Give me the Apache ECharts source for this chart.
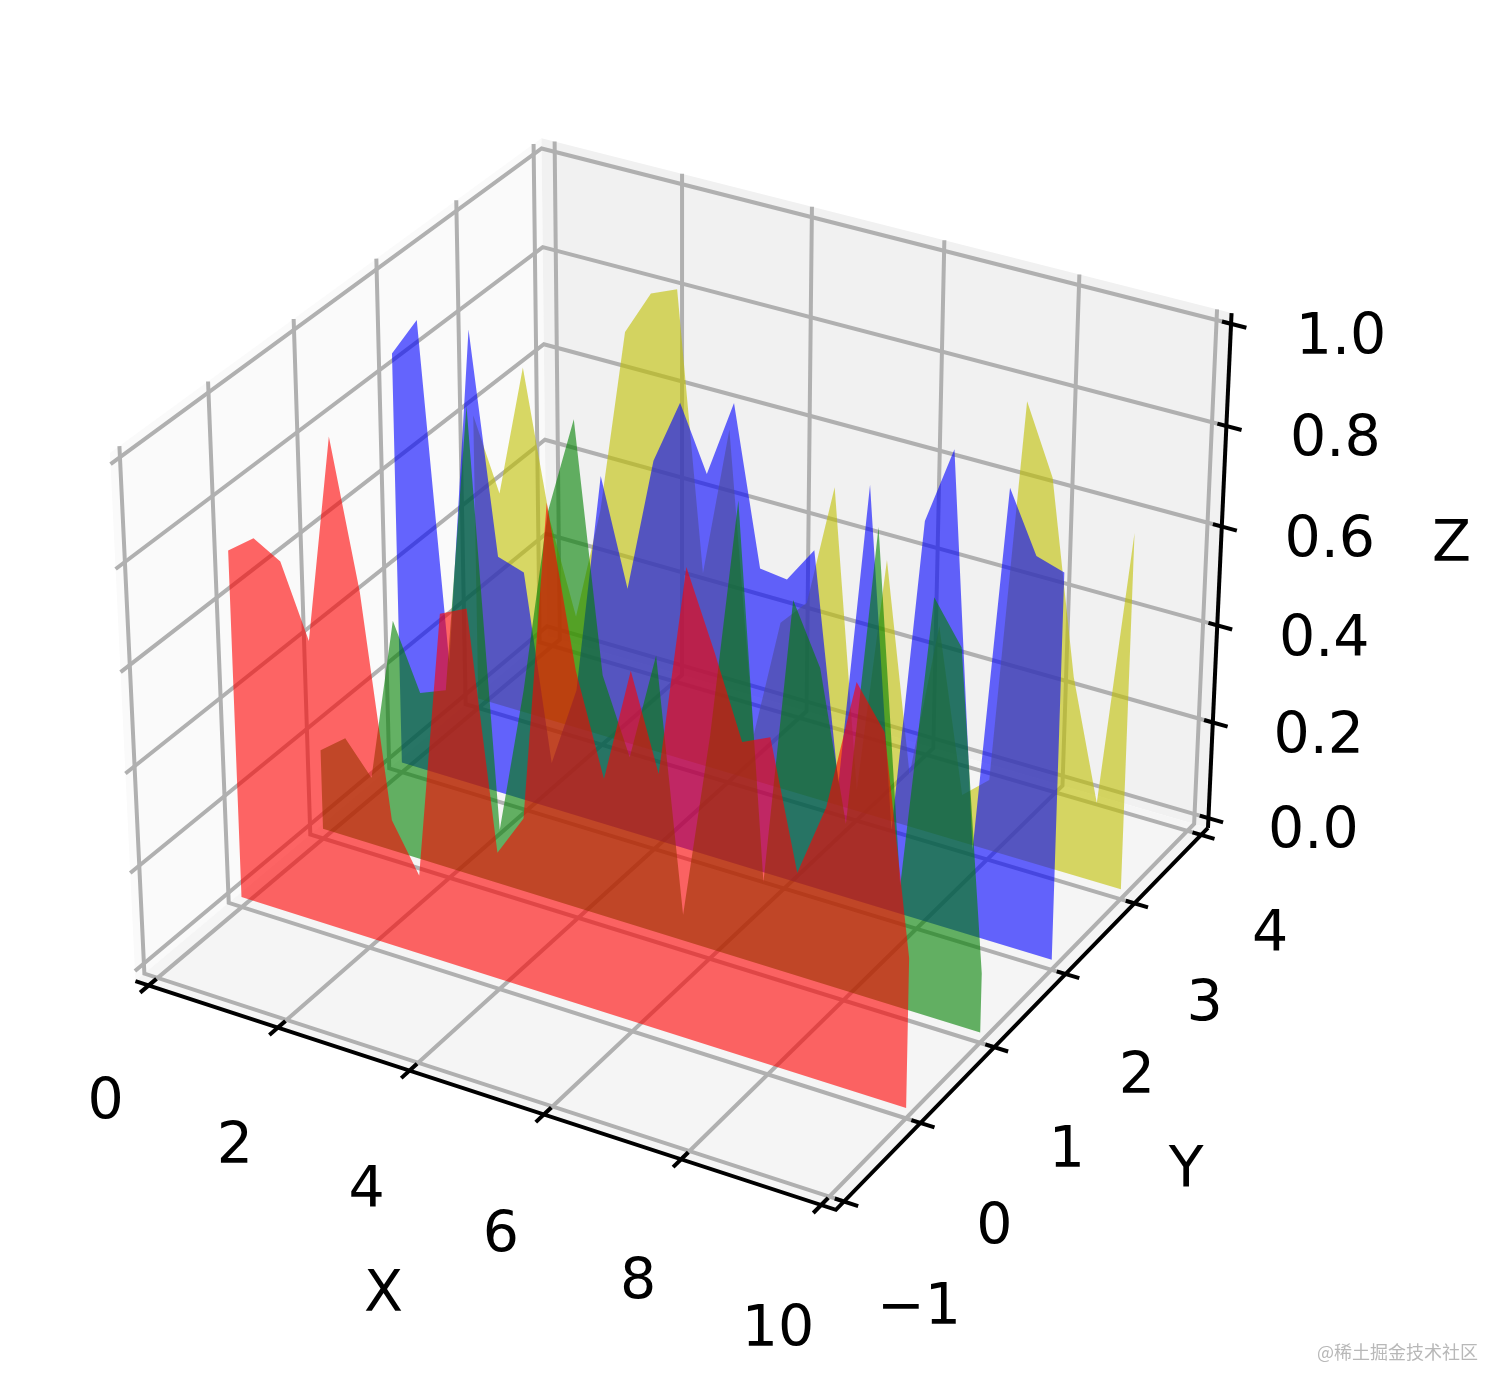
<!DOCTYPE html>
<html>
<head>
<meta charset="utf-8">
<style>
  html, body { margin: 0; padding: 0; background: #fff; }
  #main { width: 1512px; height: 1398px; }
</style>
<script src="https://cdn.jsdelivr.net/npm/echarts@6/dist/echarts.min.js"></script>
</head>
<body>
<div id="main"></div>
<script>
// 26 samples along x
var xs = [0, 0.4, 0.8, 1.2, 1.6, 2, 2.4, 2.8, 3.2, 3.6, 4, 4.4, 4.8, 5.2, 5.6, 6, 6.4, 6.8, 7.2, 7.6, 8, 8.4, 8.8, 9.2, 9.6, 10];
var redZ = [.701, .74, .709, .568, .98, .695, .257, .161, .698, .723, .257, .342, .97, .664, .469, .695, .511, .923, .778, .621, .646, .399, .543, .798, .719, .299];
var greenZ = [.164, .205, .139, .476, .345, .366, .944, .112, .413, .782, .975, .49, .341, .56, .053, .432, .906, .17, .745, .628, .337, .929, .246, .826, .745, .12];
var blueZ = [.841, .921, .242, .93, .49, .473, .095, .262, .711, .5, .77, .898, .773, .926, .616, .609, .682, .228, .839, .166, .798, .951, .175, .906, .79, .773];
var yellowZ = [.594, .448, .72, .422, .236, .472, .847, .937, .959, .402, .708, .096, .345, .401, .65, .044, .533, .109, .43, .098, .145, .92, .785, .403, .162, .721];

var xTicks = [0, 2, 4, 6, 8, 10];
var yTicks = [-1, 0, 1, 2, 3, 4];
var zTicks = [0, 0.2, 0.4, 0.6, 0.8, 1];
var xLabels = ['0', '2', '4', '6', '8', '10'];
var yLabels = ['\u22121', '0', '1', '2', '3', '4'];
var zLabels = ['0.0', '0.2', '0.4', '0.6', '0.8', '1.0'];

var W = 1512, H = 1398;
var scale = 6740, cx = 681.6, cy = 648.2;   // view plane -> pixels

// axis limits and the pane margin (1/48 of the span on each side)
var xLim = [0, 10], yLim = [-1, 4], zLim = [0, 1];
function pane(lim) {
    var m = (lim[1] - lim[0]) / 48;
    return [lim[0] - m, lim[1] + m];
}
var xP = pane(xLim), yP = pane(yLim), zP = pane(zLim);

// same view as elev=30, azim=-60, dist=10, box 4:4:3
var box = [1.1429, 1.1429, 0.8571];
function project(p) {
    var dx = ((p[0] - xLim[0]) / (xLim[1] - xLim[0]) - 0.5) * box[0];
    var dy = ((p[1] - yLim[0]) / (yLim[1] - yLim[0]) - 0.5) * box[1];
    var dz = ((p[2] - zLim[0]) / (zLim[1] - zLim[0]) - 0.5) * box[2];
    var u = 0.866025 * dx + 0.5 * dy;
    var v = -0.25 * dx + 0.433013 * dy + 0.866025 * dz;
    var w = 0.433013 * dx - 0.75 * dy + 0.5 * dz;
    return [u / (10 - w), v / (10 - w)];
}

function toPixels(points, api) {
    return points.map(function (p) { return api.coord(project(p)); });
}

function layer(name, items, draw) {
    return {
        type: 'custom',
        name: name,
        coordinateSystem: 'cartesian2d',
        silent: true,
        animation: false,
        clip: false,
        data: items.map(function (_, i) { return [i, 0]; }),
        renderItem: function (params, api) { return draw(items[params.dataIndex], api); }
    };
}

function fillPolygon(item, api) {
    return {
        type: 'polygon',
        shape: { points: toPixels(item.points, api) },
        style: { fill: item.color, opacity: item.opacity, stroke: null }
    };
}

function strokeLine(item, api) {
    return {
        type: 'polyline',
        shape: { points: toPixels(item.points, api) },
        style: { stroke: item.color, lineWidth: item.width, fill: null, lineCap: 'butt', lineJoin: 'miter' }
    };
}

function drawText(item, api) {
    var c = api.coord(project(item.at));
    return {
        type: 'text',
        style: {
            text: item.text,
            x: c[0] + item.dx,
            y: c[1] + item.dy,
            font: '57px "DejaVu Sans"',
            fill: '#000',
            align: 'center',
            verticalAlign: 'middle'
        }
    };
}

// panes
var panes = [
    { color: '#fafafa', opacity: 1, points: [[xP[0], yP[0], zP[0]], [xP[0], yP[1], zP[0]], [xP[0], yP[1], zP[1]], [xP[0], yP[0], zP[1]]] },
    { color: '#f1f1f1', opacity: 1, points: [[xP[0], yP[1], zP[0]], [xP[1], yP[1], zP[0]], [xP[1], yP[1], zP[1]], [xP[0], yP[1], zP[1]]] },
    { color: '#f5f5f5', opacity: 1, points: [[xP[0], yP[0], zP[0]], [xP[1], yP[0], zP[0]], [xP[1], yP[1], zP[0]], [xP[0], yP[1], zP[0]]] }
];

// grid lines run over two panes each
var gridColor = '#b0b0b0', gridWidth = 4;
var gridLines = [];
xTicks.forEach(function (x) {
    gridLines.push({ color: gridColor, width: gridWidth, points: [[x, yP[0], zP[0]], [x, yP[1], zP[0]], [x, yP[1], zP[1]]] });
});
yTicks.forEach(function (y) {
    gridLines.push({ color: gridColor, width: gridWidth, points: [[xP[1], y, zP[0]], [xP[0], y, zP[0]], [xP[0], y, zP[1]]] });
});
zTicks.forEach(function (z) {
    gridLines.push({ color: gridColor, width: gridWidth, points: [[xP[0], yP[0], z], [xP[0], yP[1], z], [xP[1], yP[1], z]] });
});

// black axis lines and ticks
var axisWidth = 4;
var axisLines = [
    { color: '#000', width: axisWidth, points: [[xP[0], yP[0], zP[0]], [xP[1], yP[0], zP[0]], [xP[1], yP[1], zP[0]]] },
    { color: '#000', width: axisWidth, points: [[xP[1], yP[1], zP[0]], [xP[1], yP[1], zP[1]]] }
];
xTicks.forEach(function (x) {
    axisLines.push({ color: '#000', width: axisWidth, points: [[x, yP[0] - 0.1, zP[0]], [x, yP[0] + 0.09, zP[0]]] });
});
yTicks.forEach(function (y) {
    axisLines.push({ color: '#000', width: axisWidth, points: [[xP[1] + 0.2, y, zP[0]], [xP[1] - 0.13, y, zP[0]]] });
});
zTicks.forEach(function (z) {
    axisLines.push({ color: '#000', width: axisWidth, points: [[xP[1] + 0.22, yP[1], z], [xP[1] - 0.13, yP[1], z]] });
});

// back to front: y=3, 2, 1, 0
function underGraph(y, zs, color) {
    var pts = [[xs[0], y, 0]];
    xs.forEach(function (x, i) { pts.push([x, y, zs[i]]); });
    pts.push([xs[xs.length - 1], y, 0]);
    return { color: color, opacity: 0.6, points: pts };
}
var polygons = [
    underGraph(3, yellowZ, '#bfbf00'),
    underGraph(2, blueZ, '#0000ff'),
    underGraph(1, greenZ, '#008000'),
    underGraph(0, redZ, '#ff0000')
];

// tick labels sit at a pixel offset from their tick, a bit wider near the camera
var labels = [];
xTicks.forEach(function (x, i) {
    labels.push({ text: xLabels[i], at: [x, yP[0], zP[0]], dx: -43, dy: 119 + 0.7 * x });
});
yTicks.forEach(function (y, i) {
    labels.push({ text: yLabels[i], at: [xP[1], y, zP[0]], dx: 75 - 1.2 * (y + 1), dy: 108 - 1.4 * (y + 1) });
});
zTicks.forEach(function (z, i) {
    labels.push({ text: zLabels[i], at: [xP[1], yP[1], z], dx: 105 + 5 * z, dy: 15.5 });
});
labels.push({ text: 'X', at: [5, yP[0], zP[0]], dx: -93, dy: 204 });
labels.push({ text: 'Y', at: [xP[1], 1.5, zP[0]], dx: 156, dy: 162 });
labels.push({ text: 'Z', at: [xP[1], yP[1], 0.5], dx: 232, dy: -30 });

var myChart = echarts.init(document.getElementById('main'), null, { renderer: 'canvas' });
myChart.setOption({
    animation: false,
    backgroundColor: '#fff',
    grid: { left: 0, right: 0, top: 0, bottom: 0 },
    xAxis: { type: 'value', min: (0 - cx) / scale, max: (W - cx) / scale, show: false },
    yAxis: { type: 'value', min: (cy - H) / scale, max: cy / scale, show: false },
    graphic: [{
        type: 'text',
        right: 34,
        top: 1343,
        style: { text: '@稀土掘金技术社区', font: '18px "Noto Sans CJK SC"', fill: '#b8b8b8' }
    }],
    series: [
        layer('panes', panes, fillPolygon),
        layer('grid', gridLines, strokeLine),
        layer('axes', axisLines, strokeLine),
        layer('polygons', polygons, fillPolygon),
        layer('labels', labels, drawText)
    ]
});
</script>
</body>
</html>
